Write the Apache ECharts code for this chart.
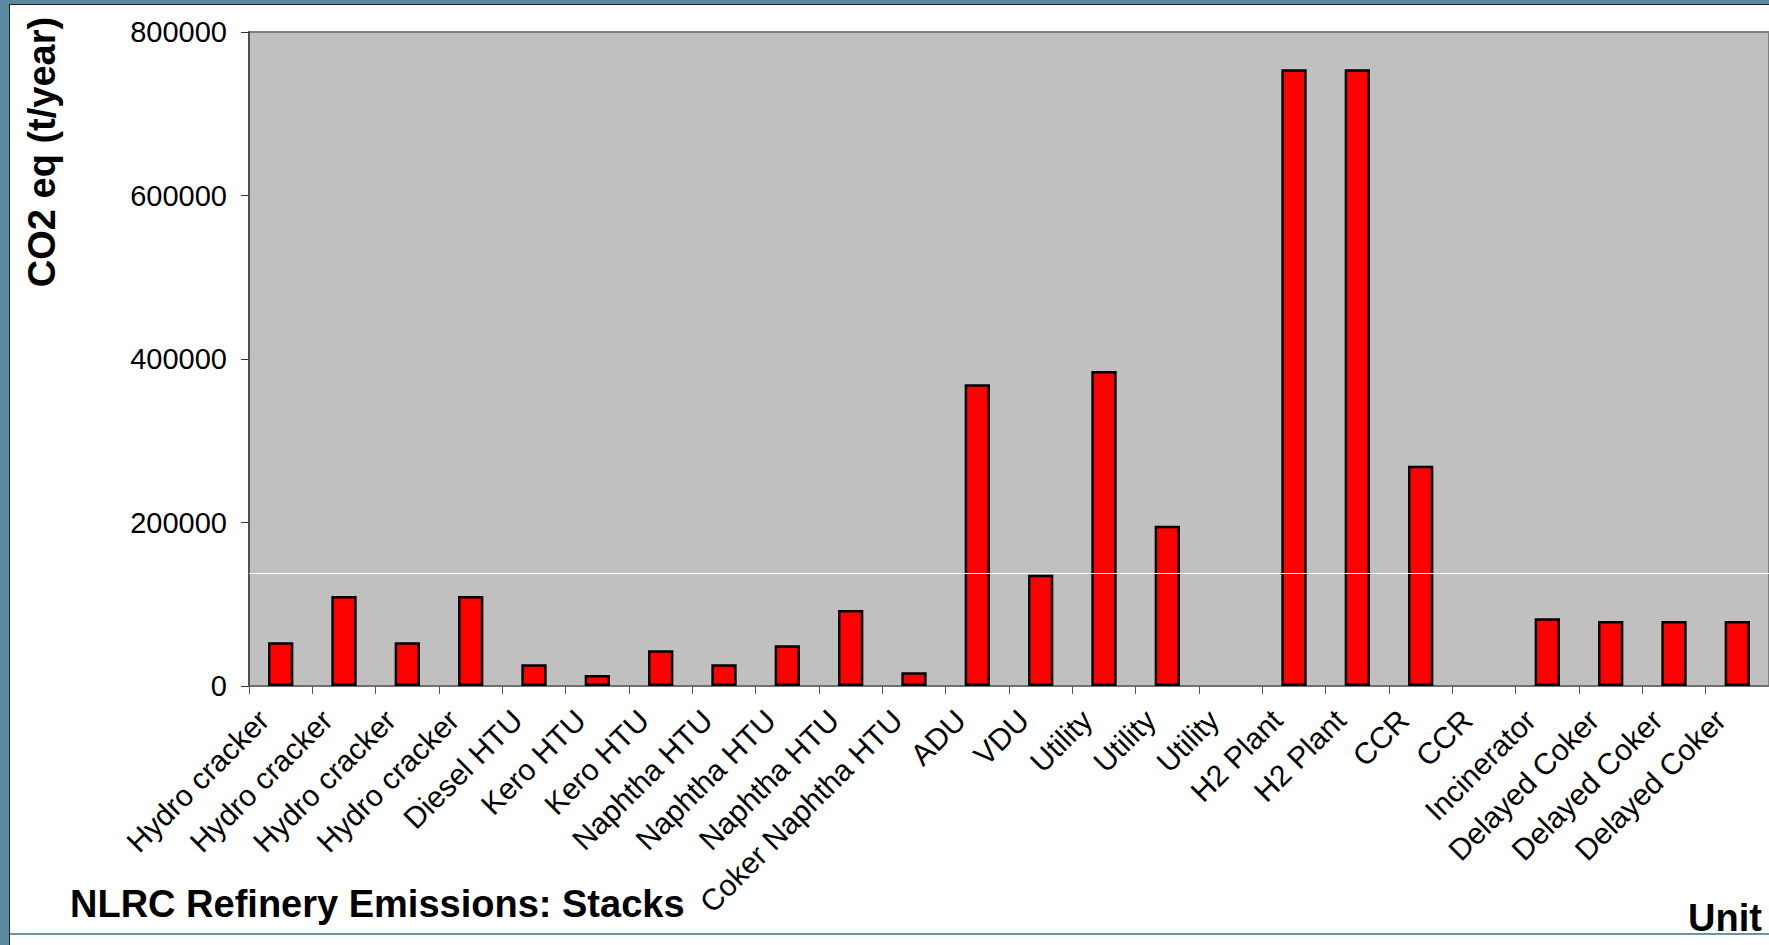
<!DOCTYPE html>
<html>
<head>
<meta charset="utf-8">
<title>NLRC Refinery Emissions: Stacks</title>
<script src="https://cdn.jsdelivr.net/npm/echarts@6/dist/echarts.min.js"></script>
<style>
    html, body { margin: 0; padding: 0; }
    body { width: 1769px; height: 945px; background: #5b88a1; position: relative; overflow: hidden; }
    #frame { position: absolute; left: 9px; top: 4px; width: 1760px; height: 941px; background: #fff; border-left: 1px solid #222; border-top: 1px solid #222; box-sizing: border-box; }
    #rule { position: absolute; left: 10px; top: 933px; width: 1759px; height: 2px; background: #6e93aa; }
    #main { position: absolute; left: 0; top: 0; width: 1769px; height: 945px; }
</style>
</head>
<body>
<div id="frame"></div>
<div id="rule"></div>
<div id="main"></div>
<script>
var units = ["Hydro cracker", "Hydro cracker", "Hydro cracker", "Hydro cracker", "Diesel HTU",
    "Kero HTU", "Kero HTU", "Naphtha HTU", "Naphtha HTU", "Naphtha HTU", "Coker Naphtha HTU",
    "ADU", "VDU", "Utility", "Utility", "Utility", "H2 Plant", "H2 Plant", "CCR", "CCR",
    "Incinerator", "Delayed Coker", "Delayed Coker", "Delayed Coker"];
// CO2 eq, t/year
var co2 = [53500, 110000, 53500, 110000, 26500,
    13500, 43600, 26500, 49700, 93000, 16700,
    369000, 136000, 385300, 196000, 0, 754300, 754300, 269300, 0,
    82800, 79500, 79500, 79500];
var yTicks = [0, 200000, 400000, 600000, 800000];
var whiteLine = 138000;

var fam = "'Liberation Sans', Arial, sans-serif";
var myChart = echarts.init(document.getElementById('main'), null, {renderer: 'svg'});

// empty units get no bar at all (no outline on the axis)
var barData = co2.map(function (v) { return v === 0 ? '-' : v; });

var option = {
    backgroundColor: 'transparent',
    animation: false,
    title: {
        text: 'NLRC Refinery Emissions: Stacks',
        left: 70,
        top: 885,
        padding: 0,
        textStyle: {fontFamily: fam, fontSize: 38, fontWeight: 'bold', color: '#000'}
    },
    grid: {
        left: 249,
        top: 32,
        right: -6,
        bottom: 259,
        show: true,
        backgroundColor: '#c0c0c0',
        borderColor: '#808080',
        borderWidth: 2
    },
    xAxis: {
        type: 'category',
        data: units,
        axisLine: {lineStyle: {color: '#707070', width: 2}},
        axisTick: {show: true, length: 8, lineStyle: {color: '#555'}},
        axisLabel: {interval: 0, rotate: 45, margin: 12, padding: [0, 24, 0, 0], fontSize: 30, fontFamily: fam, color: '#000'}
    },
    yAxis: {
        type: 'value',
        min: yTicks[0],
        max: yTicks[yTicks.length - 1],
        interval: yTicks[1] - yTicks[0],
        axisLine: {show: true, lineStyle: {color: '#404040', width: 1.5}},
        axisTick: {show: true, length: 8, lineStyle: {color: '#333'}},
        axisLabel: {margin: 22, fontSize: 29, fontFamily: fam, color: '#000',
            formatter: function (v) { return String(v); }},
        splitLine: {show: false}
    },
    graphic: [
        {
            type: 'text',
            x: 42,
            y: 152,
            rotation: Math.PI / 2,
            style: {text: 'CO2 eq (t/year)', font: 'bold 38px ' + fam, fill: '#000', align: 'center', verticalAlign: 'middle'}
        },
        {
            type: 'text',
            x: 1688,
            y: 918,
            style: {text: 'Unit', font: 'bold 38px ' + fam, fill: '#000', align: 'left', verticalAlign: 'middle'}
        }
    ],
    series: [
        {
            name: 'CO2 eq',
            type: 'bar',
            barWidth: '40%',
            data: barData,
            itemStyle: {color: '#ff0000', borderColor: '#000', borderWidth: 2.5},
            markLine: {
                silent: true,
                symbol: 'none',
                label: {show: false},
                lineStyle: {color: '#ffffff', width: 1, type: 'solid'},
                data: [{yAxis: whiteLine}]
            }
        }
    ]
};

myChart.setOption(option);
</script>
</body>
</html>
